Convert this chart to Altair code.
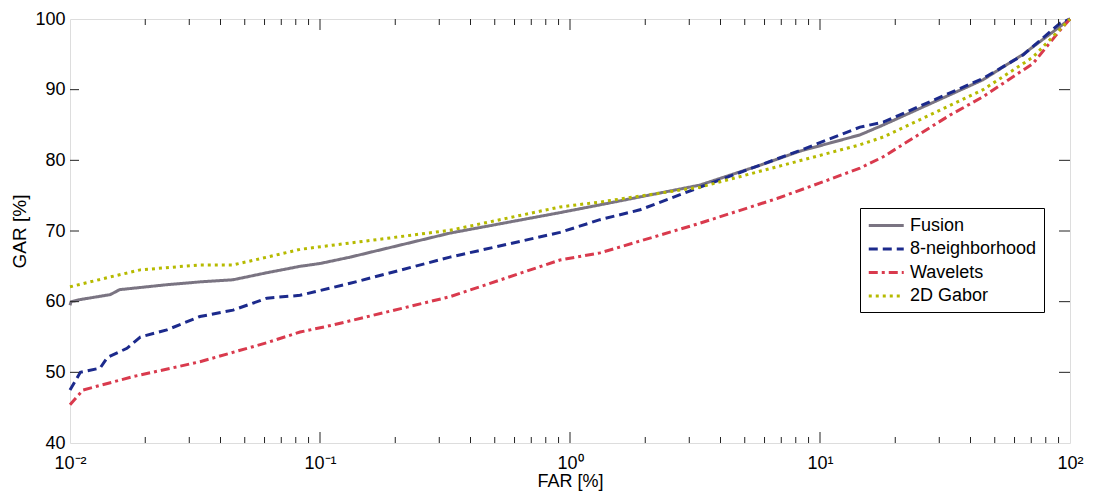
import altair as alt
import pandas as pd

series = ["Fusion", "8-neighborhood", "Wavelets", "2D Gabor"]
colors = ["#7a7482", "#1c2a8c", "#d93a4d", "#b6ba00"]
dashes = [[1, 0], [9, 5], [9, 4, 3, 4], [3, 4]]

fusion_far = [0.01, 0.0101, 0.011, 0.0145, 0.0158, 0.0244, 0.0331, 0.0449, 0.0614, 0.0832, 0.1, 0.132,
              0.331, 0.912, 1.318, 3.31, 5.75, 8.32, 14.45, 17.9, 44.9, 64.9, 100]
fusion_gar = [59.5, 60.0, 60.3, 61.0, 61.7, 62.4, 62.8, 63.1, 64.1, 65.0, 65.4, 66.3,
              69.7, 72.6, 73.7, 76.5, 79.3, 81.3, 83.6, 85.0, 91.4, 95.0, 100]

nb_far = [0.01, 0.011, 0.0132, 0.0141, 0.0169, 0.0191, 0.0244, 0.0331, 0.0449, 0.0614, 0.0832, 0.132,
          0.331, 0.912, 1.318, 1.905, 3.31, 8.32, 14.45, 17.9, 44.9, 64.9, 91.2, 100]
nb_gar = [47.5, 50.0, 50.6, 52.1, 53.4, 55.0, 56.0, 57.9, 58.8, 60.5, 60.9, 62.6,
          66.3, 69.8, 71.6, 73.0, 76.2, 81.4, 84.7, 85.4, 91.6, 94.9, 99.4, 100]

wav_far = [0.01, 0.01127, 0.0179, 0.0331, 0.0614, 0.0832, 0.1127, 0.331, 0.912, 1.318, 3.31, 6.73,
           10.0, 14.45, 17.9, 33.1, 44.9, 71.1, 91.2, 100]
wav_gar = [45.4, 47.5, 49.4, 51.5, 54.2, 55.7, 56.7, 60.7, 65.9, 66.9, 71.1, 74.6,
           76.8, 78.9, 80.5, 86.4, 89.0, 93.7, 98.4, 100]

gab_far = [0.01, 0.0145, 0.0191, 0.0331, 0.0449, 0.0614, 0.0832, 0.331, 0.912, 1.318, 3.31,
           14.45, 17.9, 44.9, 71.1, 100]
gab_gar = [62.1, 63.5, 64.5, 65.2, 65.2, 66.3, 67.4, 70.1, 73.4, 74.1, 76.2,
           82.2, 83.3, 90.0, 94.6, 100]

x_major = [0.01, 0.1, 1, 10, 100]
x_minor = [0.02, 0.03, 0.04, 0.05, 0.06, 0.07, 0.08, 0.09,
           0.2, 0.3, 0.4, 0.5, 0.6, 0.7, 0.8, 0.9,
           2, 3, 4, 5, 6, 7, 8, 9,
           20, 30, 40, 50, 60, 70, 80, 90]
y_ticks = [40, 50, 60, 70, 80, 90, 100]

W, H = 1000, 424

rows = []
for name, fx, gy in zip(series, [fusion_far, nb_far, wav_far, gab_far],
                        [fusion_gar, nb_gar, wav_gar, gab_gar]):
    for i, (a, b) in enumerate(zip(fx, gy)):
        rows.append({"series": name, "FAR": a, "GAR": b, "idx": i})
df = pd.DataFrame(rows)

xmaj_df = pd.DataFrame({"v": x_major[1:-1]})
xmin_df = pd.DataFrame({"v": x_minor})
ytk_df = pd.DataFrame({"v": y_ticks[1:-1]})

FONT = "Liberation Sans"
xscale = alt.Scale(type="log", domain=[0.01, 100], nice=False)
yscale = alt.Scale(domain=[40, 100], nice=False, zero=False)

legend = alt.Legend(
    title=None, orient="none", legendX=790, legendY=189,
    strokeColor="black", fillColor="white", padding=7,
    symbolType="M-1,0H3", symbolSize=306, symbolStrokeWidth=3,
    labelFontSize=18, labelFont=FONT, labelColor="black",
    rowPadding=3.5, labelOffset=22, cornerRadius=0,
)

label_expr = "'10' + ['\u207b\u00b2','\u207b\u00b9','\u2070','\u00b9','\u00b2'][round(log(datum.value)/LN10)+2]"

lines = alt.Chart(df).mark_line(strokeWidth=3).encode(
    x=alt.X("FAR:Q", scale=xscale, axis=alt.Axis(
        values=x_major, labelExpr=label_expr, ticks=False, domain=False, grid=False,
        title="FAR [%]", labelPadding=11, labelFontSize=18, titleFontSize=18,
        titleFontWeight="normal", labelFont=FONT, titleFont=FONT,
        labelColor="black", titleColor="black", titlePadding=0, labelFlush=False)),
    y=alt.Y("GAR:Q", scale=yscale, axis=alt.Axis(
        values=y_ticks, ticks=False, domain=False, grid=False,
        title="GAR [%]", labelPadding=5, labelFontSize=18, titleFontSize=19,
        titleFontWeight="normal", labelFont=FONT, titleFont=FONT,
        labelColor="black", titleColor="black", titlePadding=5, labelFlush=False)),
    color=alt.Color("series:N", scale=alt.Scale(domain=series, range=colors), legend=legend),
    strokeDash=alt.StrokeDash("series:N", scale=alt.Scale(domain=series, range=dashes), legend=legend),
    order="idx:Q",
)

TC = "#222"


def xticks(data, y0, y1):
    return alt.Chart(data).mark_rule(color=TC, strokeWidth=1).encode(
        x=alt.X("v:Q", scale=xscale), y=alt.value(y0), y2=alt.value(y1))


def yticks(data, x0, x1):
    return alt.Chart(data).mark_rule(color=TC, strokeWidth=1).encode(
        y=alt.Y("v:Q", scale=yscale), x=alt.value(x0), x2=alt.value(x1))


ticks = [
    xticks(xmaj_df, H, H - 11), xticks(xmin_df, H, H - 6),
    xticks(xmaj_df, 0, 11), xticks(xmin_df, 0, 6),
    yticks(ytk_df, 0, 9), yticks(ytk_df, W, W - 11),
]

chart = alt.layer(lines, *ticks).properties(
    width=W, height=H,
    autosize=alt.AutoSizeParams(type="none"),
    padding={"left": 62, "top": 11, "right": 15, "bottom": 50},
).configure_view(stroke="#222", strokeWidth=1.2).configure(background="white")

chart.save("out.html", embed_options={"renderer": "svg", "actions": False})
